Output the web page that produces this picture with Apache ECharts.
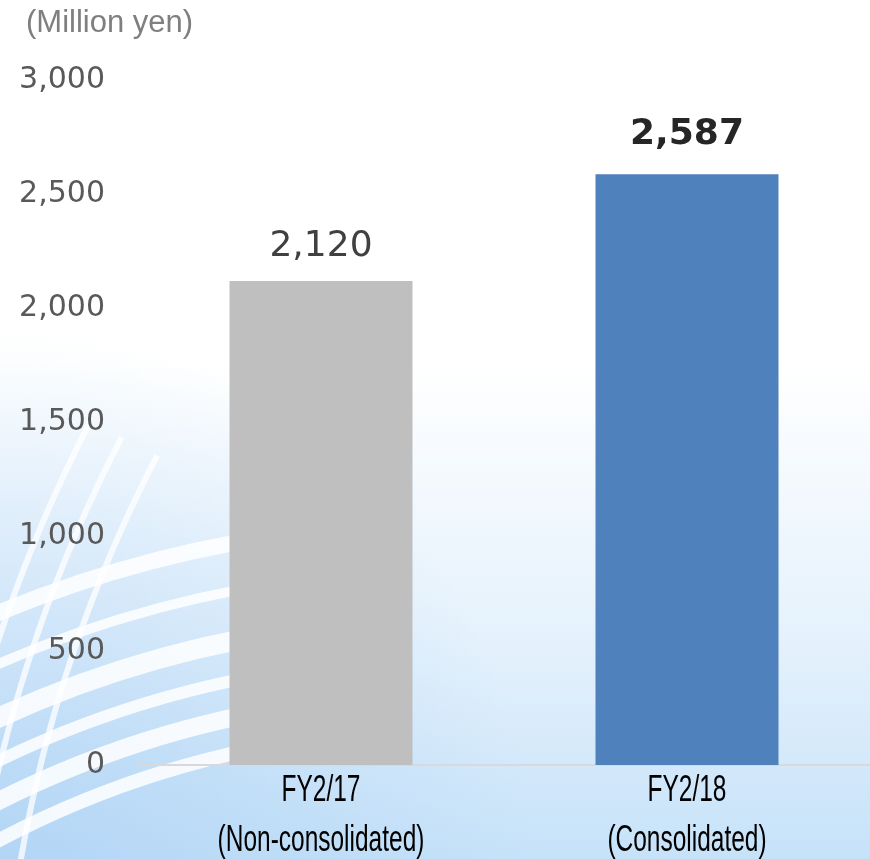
<!DOCTYPE html>
<html>
<head>
<meta charset="utf-8">
<script src="https://cdn.jsdelivr.net/npm/echarts@6/dist/echarts.min.js"></script>
<style>
  html, body { margin: 0; padding: 0; }
  #chart { width: 870px; height: 859px; }
</style>
</head>
<body>
<div id="chart"></div>
<script>
// 数据
var categories = ['FY2/17', 'FY2/18'];
var categoryNotes = ['(Non-consolidated)', '(Consolidated)'];
var sales = [2120, 2587];
var barColors = ['#bfbfbf', '#4f81bd'];
var yTicks = [0, 500, 1000, 1500, 2000, 2500, 3000];

var myChart = echarts.init(document.getElementById('chart'));

// 背景装饰（弧线）
var deco = [{
    type: 'rect',
    silent: true,
    z: -2,
    shape: { x: 0, y: 0, width: 870, height: 859 },
    style: {
        fill: {
            type: 'radial', x: 0, y: 1, r: 0.62,
            colorStops: [
                { offset: 0, color: 'rgba(165,205,243,0.6)' },
                { offset: 1, color: 'rgba(165,205,243,0)' }
            ]
        }
    }
}];
var bandR = [971, 1006, 1042, 1081, 1130, 1177];
var bandW = [14, 18, 12, 20, 10, 16];
for (var i = 0; i < bandR.length; i++) {
    deco.push({
        type: 'arc',
        silent: true,
        z: -1,
        shape: { cx: 450, cy: 1700, r: bandR[i], startAngle: 4.2, endAngle: 4.6 },
        style: { stroke: 'rgba(255,255,255,0.85)', lineWidth: bandW[i], fill: null }
    });
}
var vR = [1400, 1440, 1475];
for (var j = 0; j < vR.length; j++) {
    deco.push({
        type: 'arc',
        silent: true,
        z: -1,
        shape: { cx: 1400, cy: 1100, r: vR[j], startAngle: 3.3, endAngle: 3.62 },
        style: { stroke: 'rgba(255,255,255,0.75)', lineWidth: 6, fill: null }
    });
}

var option = {
    backgroundColor: {
        type: 'linear', x: 0, y: 0, x2: 0, y2: 1,
        colorStops: [
            { offset: 0, color: '#ffffff' },
            { offset: 0.42, color: '#ffffff' },
            { offset: 0.75, color: '#e4f1fc' },
            { offset: 1, color: '#c6e2f9' }
        ]
    },
    graphic: [{
        type: 'text',
        left: 26,
        top: 8,
        style: {
            text: '(Million yen)',
            font: '31px "Liberation Sans", Arial, sans-serif',
            fill: '#7f7f7f'
        }
    }].concat(deco),
    grid: {
        left: 138,
        right: 0,
        top: 80,
        bottom: 94,
        outerBoundsMode: 'none'
    },
    xAxis: {
        type: 'category',
        data: categories,
        axisLine: { show: true, lineStyle: { color: '#d9d9d9', width: 2 } },
        axisTick: { show: false },
        axisLabel: { show: false }
    },
    yAxis: {
        type: 'value',
        min: yTicks[0],
        max: yTicks[yTicks.length - 1],
        interval: 500,
        splitLine: { show: false },
        axisLine: { show: false },
        axisTick: { show: false },
        axisLabel: {
            color: '#595959',
            fontFamily: '"DejaVu Sans", Verdana, sans-serif',
            fontSize: 30,
            margin: 33,
            formatter: function(v) {
                return v.toLocaleString('en-US');
            }
        }
    },
    series: [{
        type: 'bar',
        barWidth: '50%',
        data: sales.map(function(v, i) {
            return {
                value: v,
                itemStyle: { color: barColors[i] },
                label: i === 1 ? { fontWeight: 'bold', color: '#262626', distance: 22 } : {}
            };
        }),
        label: {
            show: true,
            position: 'top',
            distance: 16,
            color: '#404040',
            fontFamily: '"DejaVu Sans", Verdana, sans-serif',
            fontSize: 36,
            formatter: function(p) {
                return p.value.toLocaleString('en-US');
            }
        }
    }]
};

myChart.setOption(option);

// 类别标签：字体较窄，用 scaleX 压缩
var labelGraphics = [];
for (var k = 0; k < categories.length; k++) {
    var cx = myChart.convertToPixel({ xAxisIndex: 0 }, categories[k]);
    labelGraphics.push({
        type: 'text',
        x: cx,
        y: 766,
        scaleX: 0.68,
        style: {
            text: categories[k] + '\n' + categoryNotes[k],
            font: '36px "Liberation Sans", Arial, sans-serif',
            lineHeight: 50,
            fill: '#000000',
            align: 'center',
            verticalAlign: 'top'
        }
    });
}
myChart.setOption({ graphic: option.graphic.concat(labelGraphics) });
</script>
</body>
</html>
